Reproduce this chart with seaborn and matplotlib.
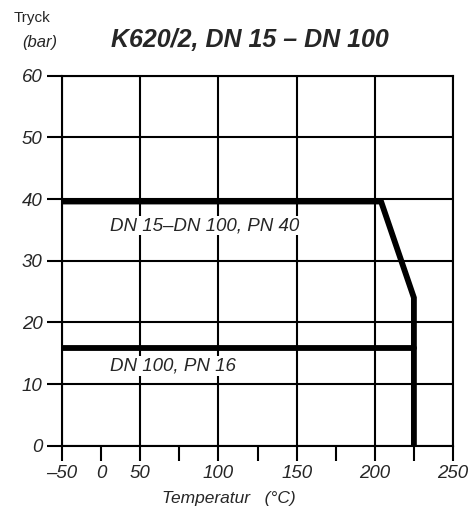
import numpy as np
import pandas as pd
import matplotlib
matplotlib.use("Agg")
import matplotlib.pyplot as plt
import seaborn as sns

# ---- data ----
temp_pn40 = [-50, 204, 225, 225]
pres_pn40 = [39.6, 39.6, 24, 0]
temp_pn16 = [-50, 225]
pres_pn16 = [15.8, 15.8]
x_major = [-50, 50, 100, 150, 200, 250]
x_minor = [0, 75, 125, 175, 225]
y_ticks = [0, 10, 20, 30, 40, 50, 60]
title = "K620/2, DN 15 – DN 100"
label_pn40 = "DN 15–DN 100, PN 40"
label_pn16 = "DN 100, PN 16"

sns.set_style("white")
FAM = ["Liberation Sans Narrow", "Liberation Sans", "DejaVu Sans"]
plt.rcParams["font.family"] = FAM

fig = plt.figure(figsize=(4.72, 5.13), dpi=100)
ax = fig.add_axes([62/472, 1-445.7/513, (453-62)/472, (445.7-75.7)/513])

def fwd(x):
    x = np.asarray(x, dtype=float)
    return np.where(x < 50, 50 + (x - 50) / 2.0, x)

def inv(y):
    y = np.asarray(y, dtype=float)
    return np.where(y < 50, 50 + (y - 50) * 2.0, y)

ax.set_xscale("function", functions=(fwd, inv))
ax.set_xlim(-50, 250)
ax.set_ylim(0, 60)

df40 = pd.DataFrame({"Temperatur": temp_pn40, "Tryck": pres_pn40})
df16 = pd.DataFrame({"Temperatur": temp_pn16, "Tryck": pres_pn16})
sns.lineplot(data=df40, x="Temperatur", y="Tryck", sort=False, estimator=None,
             color="black", lw=4.2, ax=ax, zorder=5, solid_joinstyle="miter")
sns.lineplot(data=df16, x="Temperatur", y="Tryck", sort=False, estimator=None,
             color="black", lw=4.2, ax=ax, zorder=5, solid_joinstyle="miter")

ax.set_xticks(x_major)
ax.set_xticks(x_minor, minor=True)
ax.set_xticklabels(["–50", "50", "100", "150", "200", "250"])
ax.set_xticklabels(["0", "", "", "", ""], minor=True)
ax.set_yticks(y_ticks)
ax.set_yticklabels([str(v) for v in y_ticks])

ax.grid(True, which="major", color="black", lw=1.5)
ax.set_axisbelow(True)
for s in ax.spines.values():
    s.set_color("black")
    s.set_linewidth(1.5)

ax.tick_params(axis="both", which="both", direction="out", length=11, width=1.5,
               color="black", labelsize=13.5, pad=3, bottom=True, left=True)
for lab in ax.get_xticklabels(which="both") + ax.get_yticklabels():
    lab.set_fontstyle("italic")
    lab.set_family(FAM)

ax.set_xlabel("")
ax.set_ylabel("")
fig.text(229/472, 1-499/513, "Temperatur   (°C)", fontsize=12.5, fontstyle="italic",
         ha="center", va="center", family=FAM)

ax.text(11, 35.7, label_pn40, fontsize=13.5, fontstyle="italic", ha="left", va="center",
        bbox=dict(facecolor="white", edgecolor="none", pad=1), zorder=4)
ax.text(11, 12.9, label_pn16, fontsize=13.5, fontstyle="italic", ha="left", va="center",
        bbox=dict(facecolor="white", edgecolor="none", pad=1), zorder=4)

fig.text(250/472, 1-40/513, title, fontsize=18, fontweight="bold", fontstyle="italic",
         ha="center", va="center", family=FAM)
fig.text(14/472, 1-18/513, "Tryck", fontsize=11, ha="left", va="center", family=FAM)
fig.text(22/472, 1-42/513, "(bar)", fontsize=12, fontstyle="italic", ha="left", va="center", family=FAM)

fig.savefig("out.png", dpi=100, facecolor="white")
